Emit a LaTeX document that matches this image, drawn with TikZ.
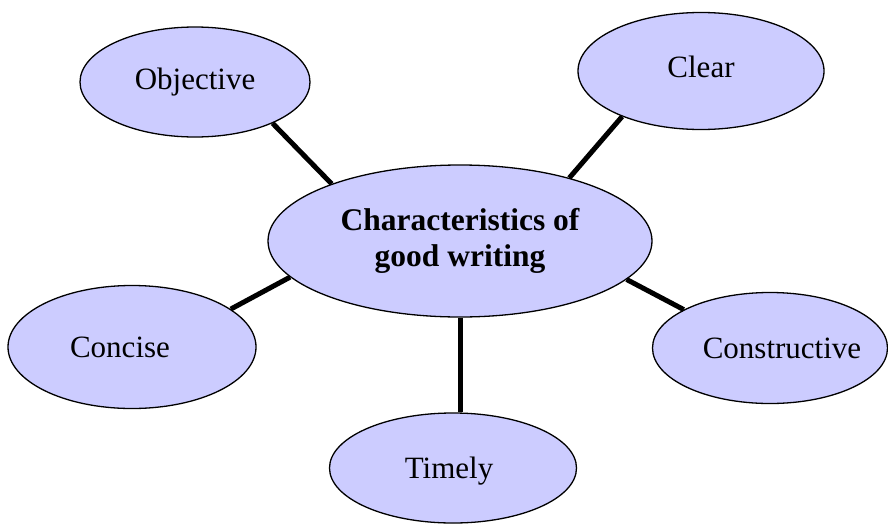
\documentclass[tikz,border=0pt]{standalone}
\usepackage{fontspec}
\setmainfont{Liberation Serif}
\usetikzlibrary{shapes.geometric}
\definecolor{bubble}{HTML}{CCCCFF}
\begin{document}
\begin{tikzpicture}[x=1pt,y=-1pt,
  bubble/.style={ellipse,draw=black,line width=1.3pt,fill=bubble,inner sep=0pt,
    font=\fontsize{31}{36}\selectfont,align=center},
  link/.style={line width=5pt,line cap=butt}]
\useasboundingbox (0,0) rectangle (888,525);
% central theme
\node[bubble,minimum width=384pt,minimum height=152pt,font=\fontsize{31.5}{36}\selectfont\bfseries]
  (main) at (460,241) {Characteristics of\\good writing};
% surrounding characteristics
\node[bubble,minimum width=230pt,minimum height=110pt] (obj) at (195,82) {Objective};
\node[bubble,minimum width=246pt,minimum height=117pt] (clear) at (701,71) {};
\node at (701,67) {\fontsize{31}{36}\selectfont Clear};
\node[bubble,minimum width=248pt,minimum height=123pt,
  label={[xshift=-12pt,font=\fontsize{31}{36}\selectfont]center:Concise}] (concise) at (132,347) {};
\node[bubble,minimum width=235pt,minimum height=111pt,
  label={[xshift=12pt,font=\fontsize{31}{36}\selectfont]center:Constructive}] (constr) at (770,348) {};
\node[bubble,minimum width=247pt,minimum height=110pt,
  label={[xshift=-4pt,yshift=-3pt,font=\fontsize{31}{36}\selectfont]center:Timely}] (timely) at (453,468) {};
% spokes
\draw[link] (obj.-28) -- (main.156);
\draw[link] (clear.210) -- (main.30);
\draw[link] (concise.21) -- (main.192.6);
\draw[link] (constr.156) -- (main.-13.4);
\draw[link] (main.south) -- (main.south |- timely.north);
\end{tikzpicture}
\end{document}
